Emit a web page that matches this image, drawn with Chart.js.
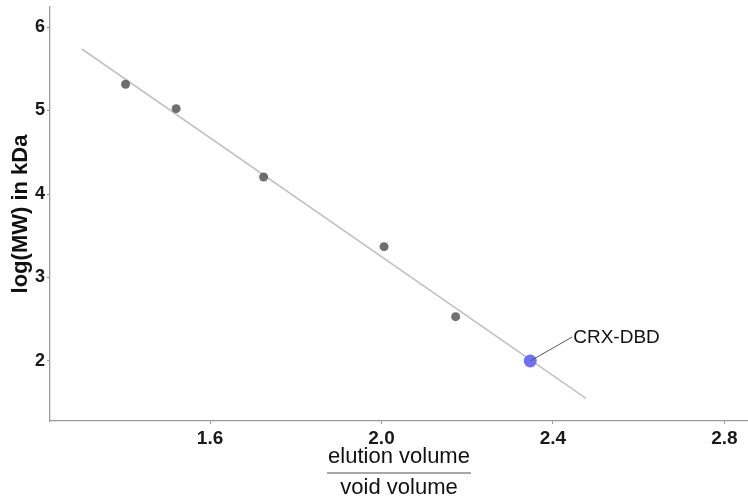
<!DOCTYPE html>
<html>
<head>
<meta charset="utf-8">
<style>
  html, body { margin: 0; padding: 0; background: #ffffff; }
  #wrap { width: 748px; height: 504px; }
</style>
<script src="https://cdn.jsdelivr.net/npm/chart.js@4.4.0/dist/chart.umd.min.js"></script>
</head>
<body>
<div id="wrap"><canvas id="c" width="748" height="504"></canvas></div>
<script>
// ---- data ----
const standardX = [1.403, 1.521, 1.725, 2.006, 2.173];
const standardY = [5.314, 5.022, 4.204, 3.369, 2.531];
const sampleX = [2.347];
const sampleY = [2.0];
const sampleLabel = 'CRX-DBD';
const fitX = [1.301, 2.477];
const fitY = [5.737, 1.553];
const xTicks = [1.6, 2.0, 2.4, 2.8];
const yTicks = [2, 3, 4, 5, 6];
const xTitle = ['elution volume', 'void volume'];
const yTitle = 'log(MW) in kDa';

const toPts = (xs, ys) => xs.map((x, i) => ({ x: x, y: ys[i] }));

const FONT = "'Liberation Sans', Arial, Helvetica, sans-serif";

const extras = {
  id: 'extras',
  afterDraw(chart) {
    const ctx = chart.ctx;
    const xs = chart.scales.x, ys = chart.scales.y;
    ctx.save();
    ctx.font = "22px " + FONT;
    const w = ctx.measureText(xTitle[0]).width;
    const cx = (chart.chartArea.left + chart.chartArea.right) / 2;
    const by = 473;
    ctx.strokeStyle = '#888888';
    ctx.lineWidth = 1.5;
    ctx.beginPath();
    ctx.moveTo(cx - w / 2 - 1, by);
    ctx.lineTo(cx + w / 2 + 1, by);
    ctx.stroke();
    ctx.restore();

    const px = xs.getPixelForValue(sampleX[0]);
    const py = ys.getPixelForValue(sampleY[0]);
    ctx.save();
    ctx.strokeStyle = '#555555';
    ctx.lineWidth = 1;
    ctx.beginPath();
    ctx.moveTo(px, py);
    ctx.lineTo(px + 42, py - 24);
    ctx.stroke();
    ctx.fillStyle = '#111111';
    ctx.font = "19px " + FONT;
    ctx.textAlign = 'left';
    ctx.textBaseline = 'middle';
    ctx.fillText(sampleLabel, px + 43, py - 23);
    ctx.restore();
  }
};

new Chart(document.getElementById('c'), {
  type: 'scatter',
  data: {
    datasets: [
      {
        type: 'line',
        label: 'fit',
        data: toPts(fitX, fitY),
        borderColor: '#c2c2c2',
        borderWidth: 1.6,
        pointRadius: 0,
        fill: false,
        order: 3
      },
      {
        label: 'standards',
        data: toPts(standardX, standardY),
        backgroundColor: 'rgba(95,95,95,0.9)',
        borderColor: 'rgba(95,95,95,0.9)',
        borderWidth: 0,
        pointRadius: 4.5,
        order: 2
      },
      {
        label: sampleLabel,
        data: toPts(sampleX, sampleY),
        backgroundColor: 'rgba(105,105,245,0.95)',
        borderColor: 'rgba(105,105,245,0.95)',
        borderWidth: 0,
        pointRadius: 6.5,
        order: 1
      }
    ]
  },
  options: {
    responsive: false,
    animation: false,
    devicePixelRatio: 1,
    layout: { autoPadding: false, padding: { top: 7, right: 0, left: 0, bottom: 0 } },
    plugins: {
      legend: { display: false },
      tooltip: { enabled: false }
    },
    scales: {
      x: {
        type: 'linear',
        min: 1.2267,
        max: 2.855,
        afterBuildTicks: s => { s.ticks = xTicks.map(v => ({ value: v })); },
        afterFit: s => { s.height = 83; s.paddingLeft = 0; s.paddingRight = 0; },
        grid: { display: true, drawOnChartArea: false, drawTicks: true, tickLength: 3, color: '#999999' },
        border: { display: true, color: '#9a9a9a', width: 1.3 },
        ticks: {
          padding: 3,
          color: '#1a1a1a',
          font: { family: FONT, size: 19, weight: 'bold' },
          callback: v => Number(v).toFixed(1)
        },
        title: {
          display: true,
          text: xTitle,
          color: '#111111',
          font: { family: FONT, size: 22, weight: 'normal', lineHeight: 1.42 },
          padding: { top: 0, bottom: 0.5 }
        }
      },
      y: {
        type: 'linear',
        min: 1.281,
        max: 6.240,
        afterBuildTicks: s => { s.ticks = yTicks.map(v => ({ value: v })); },
        afterFit: s => { s.width = 50; s.paddingTop = 0; s.paddingBottom = 0; },
        grid: { display: true, drawOnChartArea: false, drawTicks: true, tickLength: 3, color: '#999999' },
        border: { display: true, color: '#9a9a9a', width: 1.3 },
        ticks: {
          padding: 2,
          color: '#1a1a1a',
          font: { family: FONT, size: 18, weight: 'bold' },
          callback: v => String(v)
        },
        title: {
          display: true,
          text: yTitle,
          color: '#111111',
          font: { family: FONT, size: 22, weight: 'bold', lineHeight: 1.2 },
          padding: { top: 8, bottom: 0 }
        }
      }
    }
  },
  plugins: [extras]
});
</script>
</body>
</html>
